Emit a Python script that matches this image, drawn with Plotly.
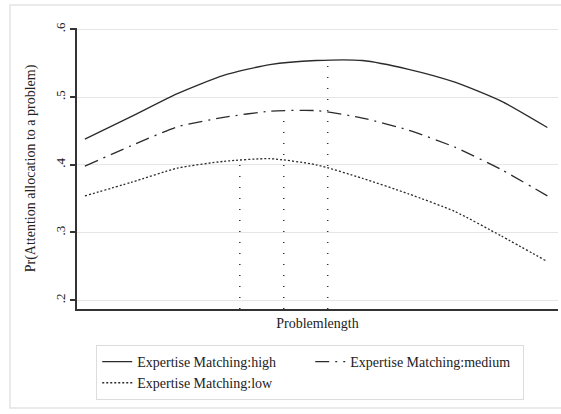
import plotly.graph_objects as go

problem_length = [0, 10, 20, 30, 40, 50, 60, 70, 80, 90, 100]
high = [0.438, 0.471, 0.505, 0.532, 0.548, 0.554, 0.554, 0.541, 0.522, 0.494, 0.455]
medium = [0.398, 0.428, 0.456, 0.470, 0.479, 0.480, 0.469, 0.451, 0.426, 0.393, 0.354]
low = [0.354, 0.374, 0.395, 0.405, 0.409, 0.400, 0.380, 0.357, 0.331, 0.295, 0.257]

# reference (drop) lines: x position and top value
drop_x = [33.5, 43.0, 52.5]
drop_top = [0.408, 0.481, 0.554]
y_bottom = 0.187

y_ticks = [0.2, 0.3, 0.4, 0.5, 0.6]
y_ticklabels = [".2", ".3", ".4", ".5", ".6"]

line_col = "#2b2b2b"
fig = go.Figure()

for xv, top in zip(drop_x, drop_top):
    fig.add_trace(go.Scatter(x=[xv, xv], y=[y_bottom, top], mode="lines",
                             line=dict(color="#333", width=1.5, dash="1px,10px"),
                             showlegend=False, hoverinfo="skip"))

fig.add_trace(go.Scatter(x=problem_length, y=high, mode="lines", name="Expertise Matching:high",
                         line=dict(color=line_col, width=1.3, shape="spline", smoothing=0.6)))
fig.add_trace(go.Scatter(x=problem_length, y=medium, mode="lines", name="Expertise Matching:medium",
                         line=dict(color=line_col, width=1.3, dash="14px,6px,2px,6px", shape="spline", smoothing=0.6)))
fig.add_trace(go.Scatter(x=problem_length, y=low, mode="lines", name="Expertise Matching:low",
                         line=dict(color=line_col, width=1.3, dash="2px,2px", shape="spline", smoothing=0.6)))

serif = "Liberation Serif"
fig.update_layout(
    width=561, height=414,
    margin=dict(l=77, r=3, t=28, b=105),
    paper_bgcolor="white", plot_bgcolor="white",
    font=dict(family=serif, size=13, color="#222"),
    showlegend=True,
    legend=dict(orientation="h", x=0.04, xanchor="left", y=-0.128, yanchor="top",
                bordercolor="#dcdcdc", borderwidth=1, entrywidth=168, entrywidthmode="pixels",
                font=dict(family=serif, size=14, color="#222"), tracegroupgap=0,
                itemwidth=30),
    xaxis=dict(range=[-1.7, 102.3], showticklabels=False, ticks="", showgrid=False, zeroline=False,
               showline=True, linecolor="#333", linewidth=2,
               title=dict(text="Problemlength", font=dict(family=serif, size=14), standoff=8)),
    yaxis=dict(range=[y_bottom, 0.602], tickvals=y_ticks, ticktext=y_ticklabels, tickangle=-90,
               ticks="outside", ticklen=5, tickcolor="#333", tickwidth=1.5,
               showgrid=True, gridcolor="#e6e6e6", gridwidth=1, zeroline=False,
               showline=True, linecolor="#333", linewidth=1.5,
               tickfont=dict(family=serif, size=13),
               title=dict(text="Pr(Attention allocation to a problem)", font=dict(family=serif, size=14), standoff=14)),
)

fig.add_shape(type="rect", xref="paper", yref="paper",
              x0=(10 - 77) / 481, x1=(566 - 77) / 481, y0=(309 - 408) / 281, y1=(309 - 5) / 281,
              line=dict(color="#e4e4e4", width=1.5), fillcolor="rgba(0,0,0,0)", layer="below")

fig.write_html("out.html", config={"displayModeBar": False},
               post_script="document.body.style.margin='0';document.body.style.overflow='hidden';")
